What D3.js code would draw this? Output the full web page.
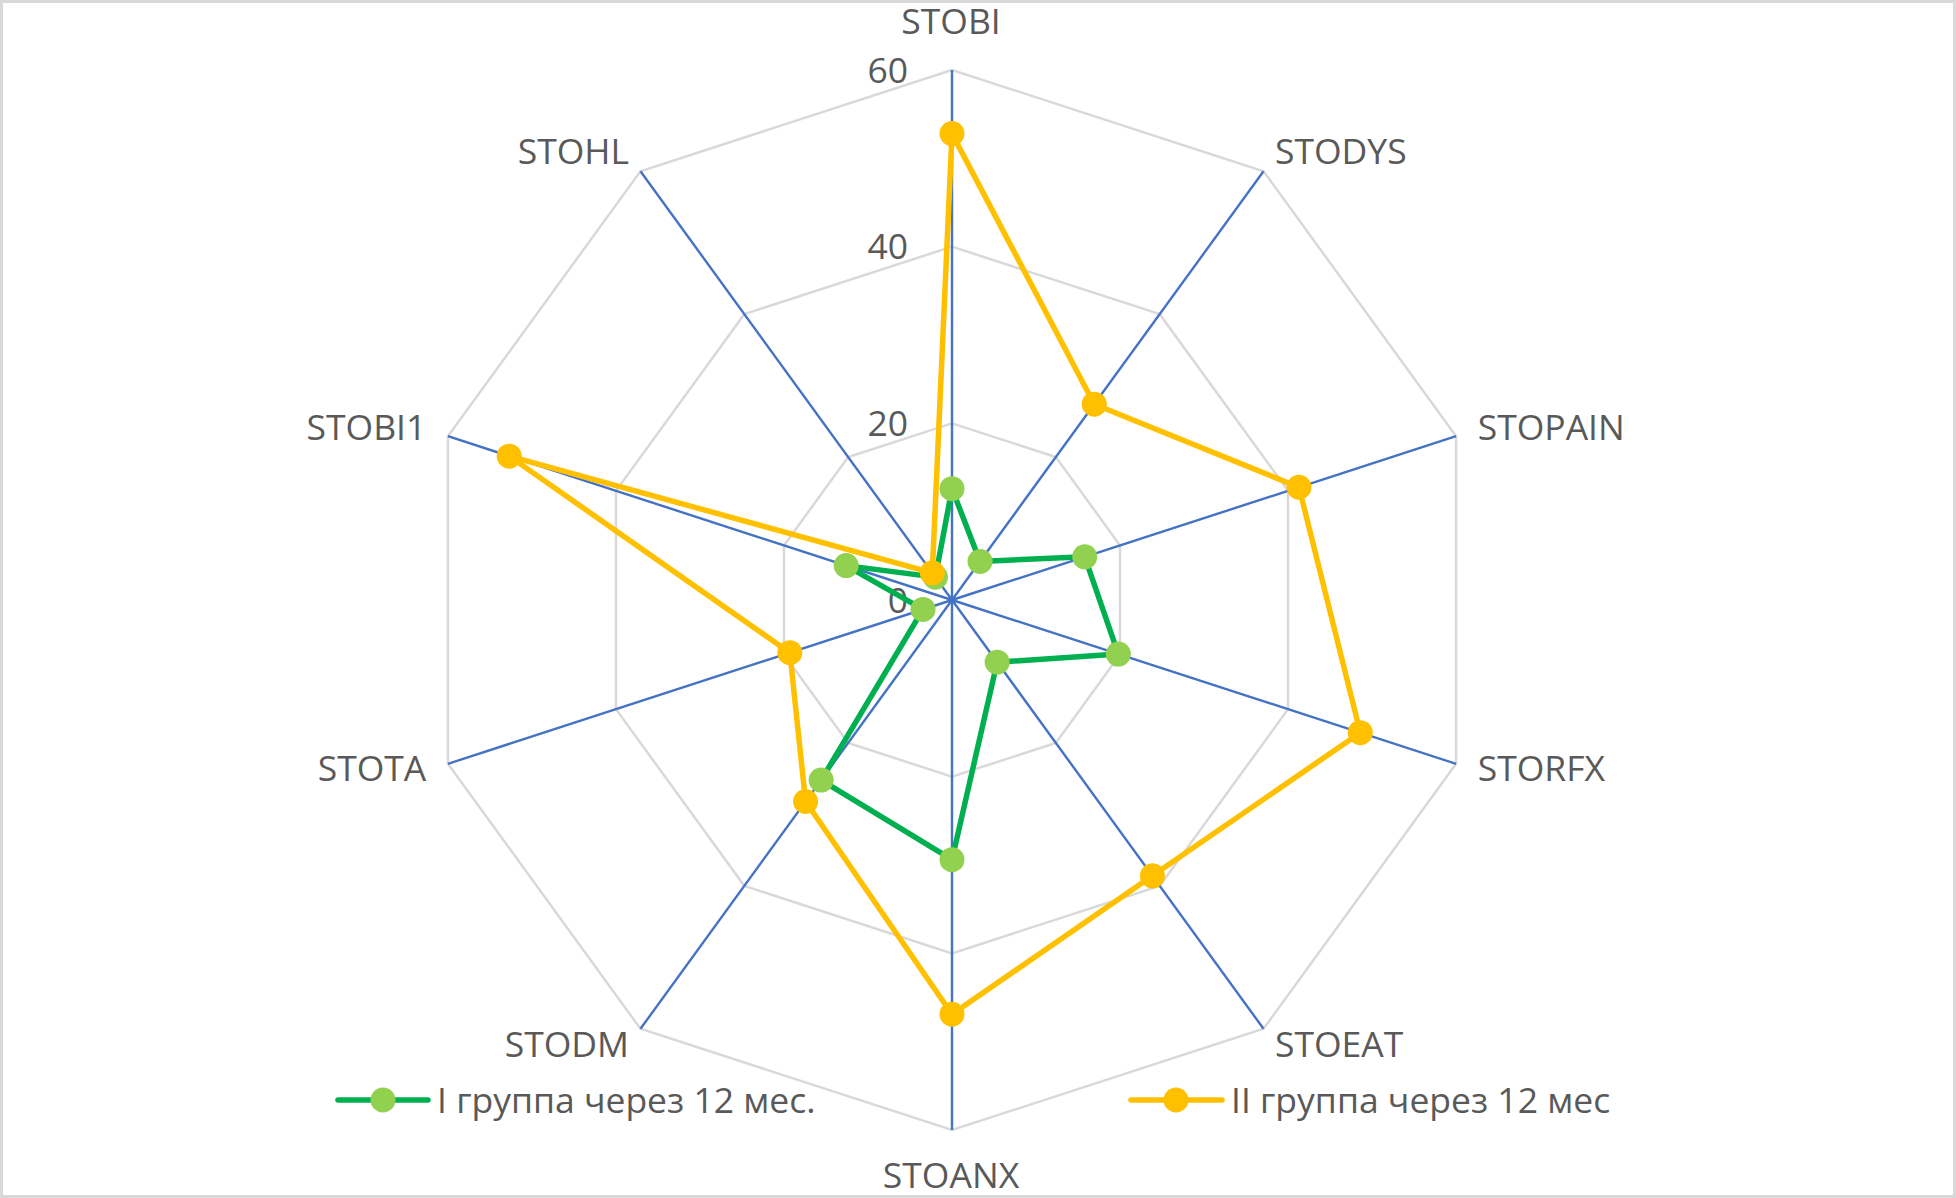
<!DOCTYPE html>
<html>
<head>
<meta charset="utf-8">
<script src="https://cdn.jsdelivr.net/npm/d3@7"></script>
<style>
  html, body { margin: 0; padding: 0; background: #fff; }
  svg { display: block; }
  text { font-family: "Open Sans", "Noto Sans", sans-serif; fill: #595959; }
</style>
</head>
<body>
<svg id="chart" width="1956" height="1198"></svg>
<script>
const categories = ["STOBI", "STODYS", "STOPAIN", "STORFX", "STOEAT", "STOANX", "STODM", "STOTA", "STOBI1", "STOHL"];
const group1Values = [12.6, 5.4, 15.8, 19.8, 8.7, 29.4, 25.2, 3.45, 12.6, 3.2];
const group2Values = [52.8, 27.4, 41.3, 48.6, 38.6, 46.9, 28.2, 19.3, 52.7, 3.8];
const tickValues = [0, 20, 40, 60];
const seriesNames = ["I группа через 12 мес.", "II группа через 12 мес"];

const W = 1956, H = 1198;
const cx = 952, cy = 600, R = 530;
const FS = 35.5;
const svg = d3.select("#chart");

svg.append("rect").attr("x", 1.5).attr("y", 1.5).attr("width", W - 3).attr("height", H - 3)
  .attr("fill", "#fff").attr("stroke", "#D9D9D9").attr("stroke-width", 3);

const g = svg.append("g").attr("transform", `translate(${cx},${cy})`);

const angle = d3.scaleLinear().domain([0, categories.length]).range([0, 2 * Math.PI]);
const r = d3.scaleLinear().domain([0, 60]).range([0, R]);

const pt = (i, v) => [Math.sin(angle(i)) * r(v), -Math.cos(angle(i)) * r(v)];

// grid rings
const ringLine = d3.line();
tickValues.filter(t => t > 0).forEach(t => {
  const pts = categories.map((c, i) => pt(i, t));
  pts.push(pts[0]);
  g.append("path").attr("d", ringLine(pts)).attr("fill", "none")
    .attr("stroke", "#D9D9D9").attr("stroke-width", 2.5);
});

// spokes
categories.forEach((c, i) => {
  const [x, y] = pt(i, 60);
  g.append("line").attr("x1", 0).attr("y1", 0).attr("x2", x).attr("y2", y)
    .attr("stroke", "#4472C4").attr("stroke-width", 2.4);
});

// tick labels
tickValues.forEach(t => {
  g.append("text").attr("x", -44).attr("y", -r(t) + 12.5)
    .attr("text-anchor", "end").attr("font-size", FS).text(t);
});

// category labels
categories.forEach((c, i) => {
  const s = Math.sin(angle(i)), co = Math.cos(angle(i));
  const [vx, vy] = pt(i, 60);
  let x, y, anchor;
  if (Math.abs(s) < 0.1) {
    anchor = "middle";
    x = vx - 1;
    y = co > 0 ? vy - 36 : vy + 58;
  } else {
    anchor = s > 0 ? "start" : "end";
    x = vx + Math.sign(s) * (Math.abs(s) * 28 - 5);
    y = vy - co * 22 - 2 + 12.5;
  }
  g.append("text").attr("x", x).attr("y", y).attr("text-anchor", anchor)
    .attr("font-size", FS).text(c);
});

// series
const series = [
  { name: seriesNames[0], values: group1Values, line: "#00B050", fill: "#92D050" },
  { name: seriesNames[1], values: group2Values, line: "#FFC000", fill: "#FFC000" }
];
const line = d3.line().curve(d3.curveLinearClosed);
series.forEach(sr => {
  const pts = sr.values.map((v, i) => pt(i, v));
  const sg = g.append("g");
  sg.append("path").attr("d", line(pts)).attr("fill", "none")
    .attr("stroke", sr.line).attr("stroke-width", 5.5).attr("stroke-linejoin", "round");
  sg.selectAll("circle").data(pts).join("circle")
    .attr("cx", d => d[0]).attr("cy", d => d[1]).attr("r", 12.5)
    .attr("fill", sr.fill);
});

// legend
const legendPos = [{ x1: 338, mx: 383, x2: 428, tx: 437 }, { x1: 1131, mx: 1176, x2: 1222, tx: 1231 }];
const ly = 1100;
series.forEach((sr, k) => {
  const p = legendPos[k];
  svg.append("line").attr("x1", p.x1).attr("x2", p.x2).attr("y1", ly).attr("y2", ly)
    .attr("stroke", sr.line).attr("stroke-width", 5.5).attr("stroke-linecap", "round");
  svg.append("circle").attr("cx", p.mx).attr("cy", ly).attr("r", 12.5).attr("fill", sr.fill);
  svg.append("text").attr("x", p.tx).attr("y", ly + 12.5).attr("font-size", FS).text(sr.name);
});
</script>
</body>
</html>
